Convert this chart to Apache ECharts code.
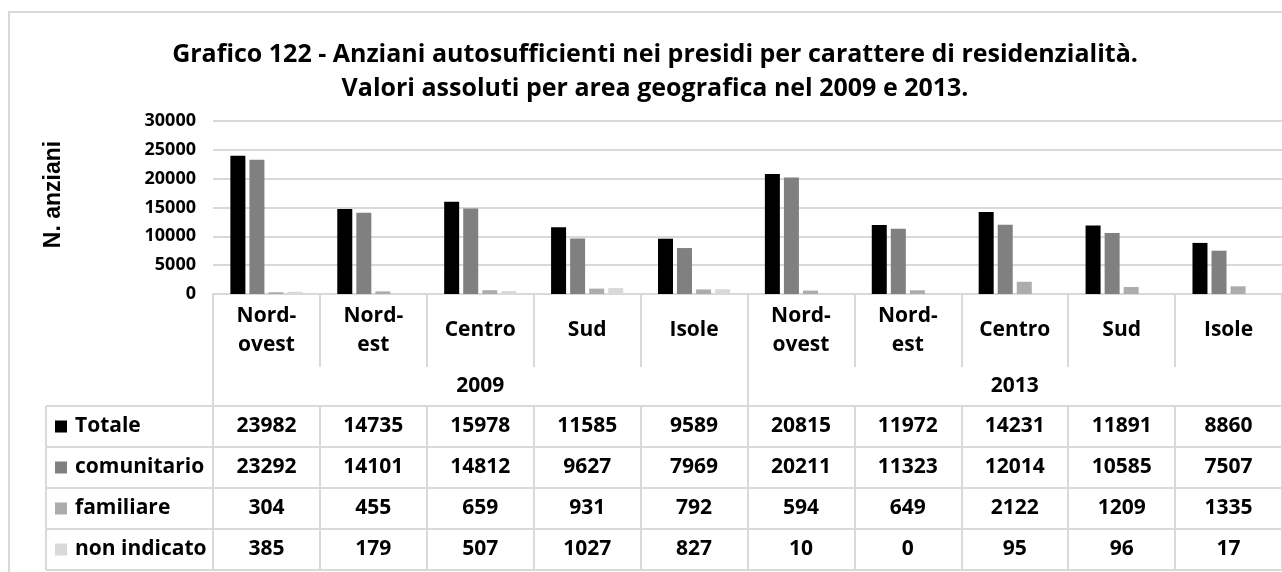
<!DOCTYPE html>
<html>
<head>
<meta charset="utf-8">
<script src="https://cdn.jsdelivr.net/npm/echarts@6/dist/echarts.min.js"></script>
<style>
  html, body { margin: 0; padding: 0; background: #ffffff; }
  #chart { width: 1282px; height: 572px; }
</style>
</head>
<body>
<div id="chart"></div>
<script>
// Anziani autosufficienti nei presidi, per carattere di residenzialità
const years = ['2009', '2013'];
const regions = ['Nord-ovest', 'Nord-est', 'Centro', 'Sud', 'Isole'];
const seriesNames = ['Totale', 'comunitario', 'familiare', 'non indicato'];
const seriesColors = ['#000000', '#808080', '#aeabab', '#d9d9d9'];

// values in order: 2009 (5 regions), 2013 (5 regions)
const totale      = [23982, 14735, 15978, 11585, 9589, 20815, 11972, 14231, 11891, 8860];
const comunitario = [23292, 14101, 14812, 9627, 7969, 20211, 11323, 12014, 10585, 7507];
const familiare   = [304, 455, 659, 931, 792, 594, 649, 2122, 1209, 1335];
const nonIndicato = [385, 179, 507, 1027, 827, 10, 0, 95, 96, 17];

const yTicks = { min: 0, max: 30000, interval: 5000 };

const seriesValues = [totale, comunitario, familiare, nonIndicato];
const categories = years.flatMap(y => regions.map(r => y + '|' + r));

// layout
const W = 1282, H = 572;
const plotLeft = 213, plotTop = 121, plotBottomY = 294;
const headerH = 73, yearH = 39, rowH = 41;
const tableLeft = 46;
const lineColor = '#d9d9d9';
const cellFont = 'Open Sans';

const tableTop = plotBottomY + headerH + yearH;

const xAxes = [
  {
    type: 'category', gridIndex: 0, data: categories, position: 'bottom', offset: 0,
    axisLine: { show: true, lineStyle: { color: lineColor, width: 2 } },
    axisTick: { show: true, interval: 0, length: headerH, lineStyle: { color: lineColor, width: 2 } },
    axisLabel: {
      interval: 0, margin: headerH / 2, verticalAlign: 'middle',
      color: '#000', fontFamily: cellFont, fontWeight: 'bold', fontSize: 21, lineHeight: 29,
      formatter: v => v.split('|')[1].replace('-', '-\n')
    }
  },
  {
    type: 'category', gridIndex: 0, data: years, position: 'bottom', offset: headerH,
    axisLine: { show: false },
    axisTick: { show: true, interval: 0, length: yearH, lineStyle: { color: lineColor, width: 2 } },
    axisLabel: {
      interval: 0, margin: yearH / 2, verticalAlign: 'middle',
      color: '#000', fontFamily: cellFont, fontWeight: 'bold', fontSize: 21
    }
  }
];

seriesValues.forEach((vals, k) => {
  xAxes.push({
    type: 'category', gridIndex: 0, data: vals.map(String), position: 'bottom',
    offset: headerH + yearH + k * rowH,
    axisLine: { show: true, lineStyle: { color: lineColor, width: 2 } },
    axisTick: { show: true, interval: 0, length: rowH, lineStyle: { color: lineColor, width: 2 } },
    axisLabel: {
      interval: 0, margin: rowH / 2, verticalAlign: 'middle',
      color: '#000', fontFamily: cellFont, fontWeight: 'bold', fontSize: 21
    }
  });
});

// legend column of the data table
const legendGraphics = [];
for (let k = 0; k <= seriesNames.length; k++) {
  legendGraphics.push({
    type: 'line', silent: true,
    shape: { x1: tableLeft, y1: tableTop + k * rowH, x2: k === seriesNames.length ? W : plotLeft, y2: tableTop + k * rowH },
    style: { stroke: lineColor, lineWidth: 2 }
  });
}
legendGraphics.push({
  type: 'line', silent: true,
  shape: { x1: tableLeft, y1: tableTop, x2: tableLeft, y2: tableTop + seriesNames.length * rowH },
  style: { stroke: lineColor, lineWidth: 2 }
});
seriesNames.forEach((name, k) => {
  const cy = tableTop + k * rowH + rowH / 2;
  legendGraphics.push({
    type: 'rect', silent: true,
    shape: { x: 55, y: cy - 6, width: 12, height: 12 },
    style: { fill: seriesColors[k] }
  });
  legendGraphics.push({
    type: 'text', silent: true, x: 75, y: cy,
    style: { text: name, fill: '#000', font: 'bold 21px "' + cellFont + '"', textVerticalAlign: 'middle', textAlign: 'left' }
  });
});

const option = {
  backgroundColor: '#ffffff',
  animation: false,
  title: {
    text: 'Grafico 122 - Anziani autosufficienti nei presidi per carattere di residenzialità.\nValori assoluti per area geografica nel 2009 e 2013.',
    left: 650, top: 33, textAlign: 'center',
    textStyle: { fontFamily: 'Open Sans', fontWeight: 'bold', fontSize: 25, lineHeight: 34, color: '#000' }
  },
  grid: { left: plotLeft, right: 0, top: plotTop, bottom: H - plotBottomY, containLabel: false },
  xAxis: xAxes,
  yAxis: {
    type: 'value', min: yTicks.min, max: yTicks.max, interval: yTicks.interval,
    name: 'N. anziani', nameLocation: 'middle', nameGap: 148, nameRotate: 90,
    nameTextStyle: { fontFamily: 'Liberation Sans', fontWeight: 'bold', fontSize: 23, color: '#000', padding: [0, 0, 0, 26] },
    axisLine: { show: false }, axisTick: { show: false },
    axisLabel: { margin: 17, color: '#000', fontFamily: cellFont, fontWeight: 'bold', fontSize: 18, formatter: v => String(v) },
    splitLine: { lineStyle: { color: lineColor, width: 2 } }
  },
  graphic: [
    {
      type: 'rect', silent: true, z: -1,
      shape: { x: 9, y: 12, width: W + 20, height: H + 20 },
      style: { fill: 'none', stroke: lineColor, lineWidth: 2 }
    }
  ].concat(legendGraphics),
  series: seriesNames.map((name, k) => ({
    name, type: 'bar', xAxisIndex: 0, yAxisIndex: 0,
    data: seriesValues[k], barWidth: 15, barGap: '27%',
    itemStyle: { color: seriesColors[k] }
  }))
};

const chart = echarts.init(document.getElementById('chart'), null, { renderer: 'canvas' });
chart.setOption(option);
</script>
</body>
</html>
